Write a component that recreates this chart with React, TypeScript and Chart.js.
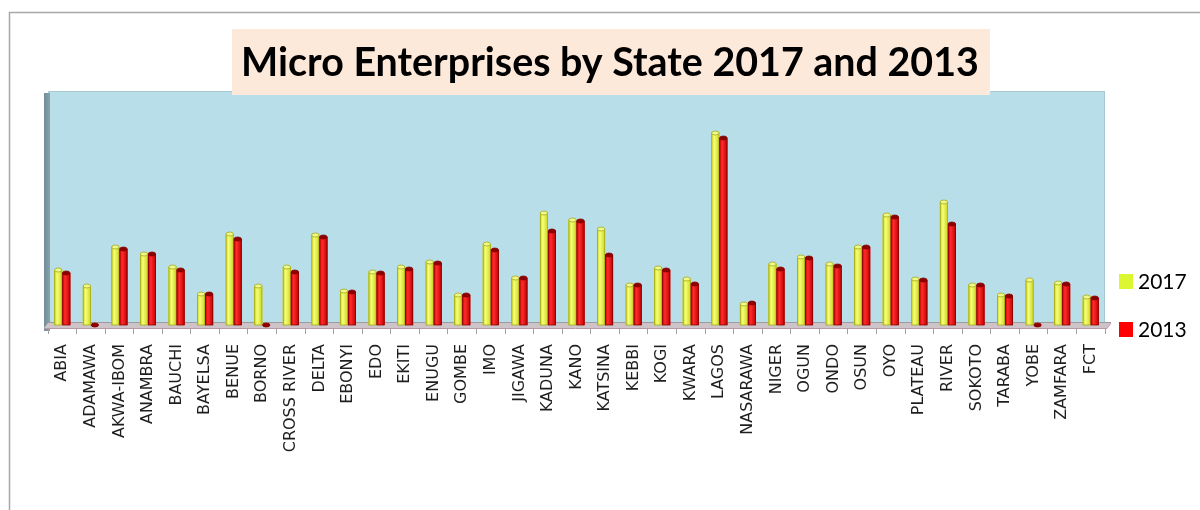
import React, { useEffect, useRef } from "react";
import { Chart, registerables } from "chart.js";

Chart.register(...registerables);

const TITLE = "Micro Enterprises by State 2017 and 2013";
const STATES = ["ABIA", "ADAMAWA", "AKWA-IBOM", "ANAMBRA", "BAUCHI", "BAYELSA", "BENUE", "BORNO", "CROSS RIVER", "DELTA", "EBONYI", "EDO", "EKITI", "ENUGU", "GOMBE", "IMO", "JIGAWA", "KADUNA", "KANO", "KATSINA", "KEBBI", "KOGI", "KWARA", "LAGOS", "NASARAWA", "NIGER", "OGUN", "ONDO", "OSUN", "OYO", "PLATEAU", "RIVER", "SOKOTO", "TARABA", "YOBE", "ZAMFARA", "FCT"];
const SERIES_LABELS = ["2017", "2013"];
const VALUES_2017 = [55, 39, 78, 71, 58, 31, 91, 39, 58, 90, 34, 53, 58, 63, 30, 81, 47, 112, 105, 96, 40, 57, 46, 192, 21, 61, 68, 61, 78, 110, 46, 123, 40, 30, 45, 42, 28];
const VALUES_2013 = [52, 0, 76, 71, 55, 31, 86, 0, 53, 88, 33, 52, 56, 62, 30, 75, 47, 94, 104, 70, 40, 55, 41, 187, 22, 56, 67, 59, 78, 108, 45, 101, 40, 29, 0, 41, 27];

const PALETTES = [
  { legend: "#DDF632", edge: "#C4CF1E", light: "#F7FF78", dark: "#CBD621", stroke: "#A4AA18", cap: "#EFF88C" },
  { legend: "#FF0000", edge: "#CC0000", light: "#FF2C2C", dark: "#BE0000", stroke: "#880000", cap: "#8E0000" },
];

const backdropPlugin = {
  id: "backdrop",
  beforeDraw(chart: any) {
    const { ctx, chartArea: a } = chart;
    ctx.save();
    ctx.fillStyle = "#FFFFFF";
    ctx.fillRect(0, 0, chart.width, chart.height);
    // outer frame
    ctx.strokeStyle = "#A8A8A8";
    ctx.lineWidth = 1.5;
    ctx.beginPath();
    ctx.moveTo(9.5, chart.height);
    ctx.lineTo(9.5, 12.5);
    ctx.lineTo(chart.width, 12.5);
    ctx.stroke();
    // back wall
    ctx.fillStyle = "#B8DFE9";
    ctx.fillRect(a.left, a.top, a.right - a.left, a.bottom - a.top + 2);
    ctx.strokeStyle = "#A6C9D3";
    ctx.lineWidth = 1;
    ctx.strokeRect(a.left + 0.5, a.top + 0.5, a.right - a.left - 1, a.bottom - a.top + 1);
    // left side wall
    const g = ctx.createLinearGradient(a.left - 5, 0, a.left + 3, 0);
    g.addColorStop(0, "#6F8A94");
    g.addColorStop(1, "#8EA6AE");
    ctx.fillStyle = g;
    ctx.fillRect(a.left - 4, a.top + 2, 6, a.bottom - a.top + 4);
    ctx.restore();
  },
  beforeDatasetsDraw(chart: any) {
    const { ctx, chartArea: a } = chart;
    ctx.save();
    // floor
    ctx.fillStyle = "#CFC3CA";
    ctx.beginPath();
    ctx.moveTo(a.left - 4, a.bottom + 3);
    ctx.lineTo(a.right + 2, a.bottom + 3);
    ctx.lineTo(a.right + 6, a.bottom - 2);
    ctx.lineTo(a.left, a.bottom - 2);
    ctx.closePath();
    ctx.fill();
    ctx.strokeStyle = "#9C9C9C";
    ctx.lineWidth = 1;
    ctx.beginPath();
    ctx.moveTo(a.left, a.bottom - 2.5);
    ctx.lineTo(a.right + 6, a.bottom - 2.5);
    ctx.stroke();
    ctx.strokeStyle = "#B89AA6";
    ctx.beginPath();
    ctx.moveTo(a.left - 4, a.bottom + 3.5);
    ctx.lineTo(a.right + 2, a.bottom + 3.5);
    ctx.lineTo(a.right + 6, a.bottom - 2);
    ctx.stroke();
    ctx.restore();
  },
};

const cylinderPlugin = {
  id: "cylinders",
  afterDatasetsDraw(chart: any) {
    const ctx = chart.ctx;
    ctx.save();
    chart.data.datasets.forEach((_ds: any, di: number) => {
      const meta = chart.getDatasetMeta(di);
      const pal = PALETTES[di];
      meta.data.forEach((el: any) => {
        const { x, y, base, width } = el.getProps(["x", "y", "base", "width"], true);
        const l = x - width / 2;
        const h = base - y;
        ctx.lineWidth = 0.8;
        ctx.strokeStyle = pal.stroke;
        if (h > 0.5) {
          const g = ctx.createLinearGradient(l, 0, l + width, 0);
          g.addColorStop(0, pal.edge);
          g.addColorStop(0.35, pal.light);
          g.addColorStop(1, pal.dark);
          ctx.fillStyle = g;
          ctx.fillRect(l, y, width, h);
          ctx.strokeRect(l + 0.4, y, width - 0.8, h);
        }
        ctx.beginPath();
        ctx.ellipse(x, y, width / 2 - 0.3, 2, 0, 0, Math.PI * 2);
        ctx.fillStyle = pal.cap;
        ctx.fill();
        ctx.stroke();
      });
    });
    ctx.restore();
  },
};

const titleLegendPlugin = {
  id: "titleLegend",
  afterDraw(chart: any) {
    const { ctx } = chart;
    ctx.save();
    // title box
    ctx.fillStyle = "#FDE9DA";
    ctx.fillRect(232, 29, 758, 66);
    let size = 40;
    ctx.font = `bold ${size}px Lato, "Open Sans", sans-serif`;
    const w = ctx.measureText(TITLE).width;
    size = (size * 738) / w;
    ctx.font = `bold ${size}px Lato, "Open Sans", sans-serif`;
    ctx.fillStyle = "#000000";
    ctx.textAlign = "center";
    ctx.textBaseline = "middle";
    ctx.fillText(TITLE, 610, 63);
    // legend
    ctx.textAlign = "left";
    ctx.font = `21px Lato, "Open Sans", sans-serif`;
    chart.data.datasets.forEach((ds: any, i: number) => {
      const top = 274 + i * 48;
      ctx.fillStyle = PALETTES[i].legend;
      ctx.fillRect(1119, top, 14, 15);
      ctx.fillStyle = "#000000";
      ctx.fillText(ds.label, 1138, top + 8);
    });
    ctx.restore();
  },
};

export default function App() {
  const ref = useRef<HTMLCanvasElement | null>(null);
  useEffect(() => {
    if (!ref.current) return;
    const chart = new Chart(ref.current, {
      type: "bar",
      data: {
        labels: STATES,
        datasets: [
          { label: SERIES_LABELS[0], data: VALUES_2017, backgroundColor: PALETTES[0].legend },
          { label: SERIES_LABELS[1], data: VALUES_2013, backgroundColor: PALETTES[1].legend },
        ],
      },
      options: {
        responsive: false,
        animation: false,
        devicePixelRatio: 1,
        layout: { padding: { left: 48, right: 95, top: 91, bottom: 0 } },
        datasets: { bar: { categoryPercentage: 0.56, barPercentage: 1.0 } },
        plugins: {
          legend: { display: false },
          title: { display: false },
          tooltip: { enabled: false },
        },
        scales: {
          x: {
            afterFit: (s: any) => {
              s.height = 185;
            },
            grid: {
              display: true,
              drawOnChartArea: false,
              drawTicks: true,
              tickLength: 9,
              color: "#A0A0A0",
              offset: true,
            },
            border: { display: false },
            ticks: {
              autoSkip: false,
              maxRotation: 90,
              minRotation: 90,
              padding: 10,
              color: "#1E1E1E",
              font: { family: "DejaVu Sans", size: 16 },
            },
          },
          y: {
            display: false,
            min: 0,
            max: 234,
          },
        },
      },
      plugins: [backdropPlugin, cylinderPlugin, titleLegendPlugin],
    });
    return () => chart.destroy();
  }, []);
  return (
    <div style={{ position: "absolute", left: 0, top: 0, width: 1200, height: 510 }}>
      <canvas ref={ref} width={1200} height={510} />
    </div>
  );
}
